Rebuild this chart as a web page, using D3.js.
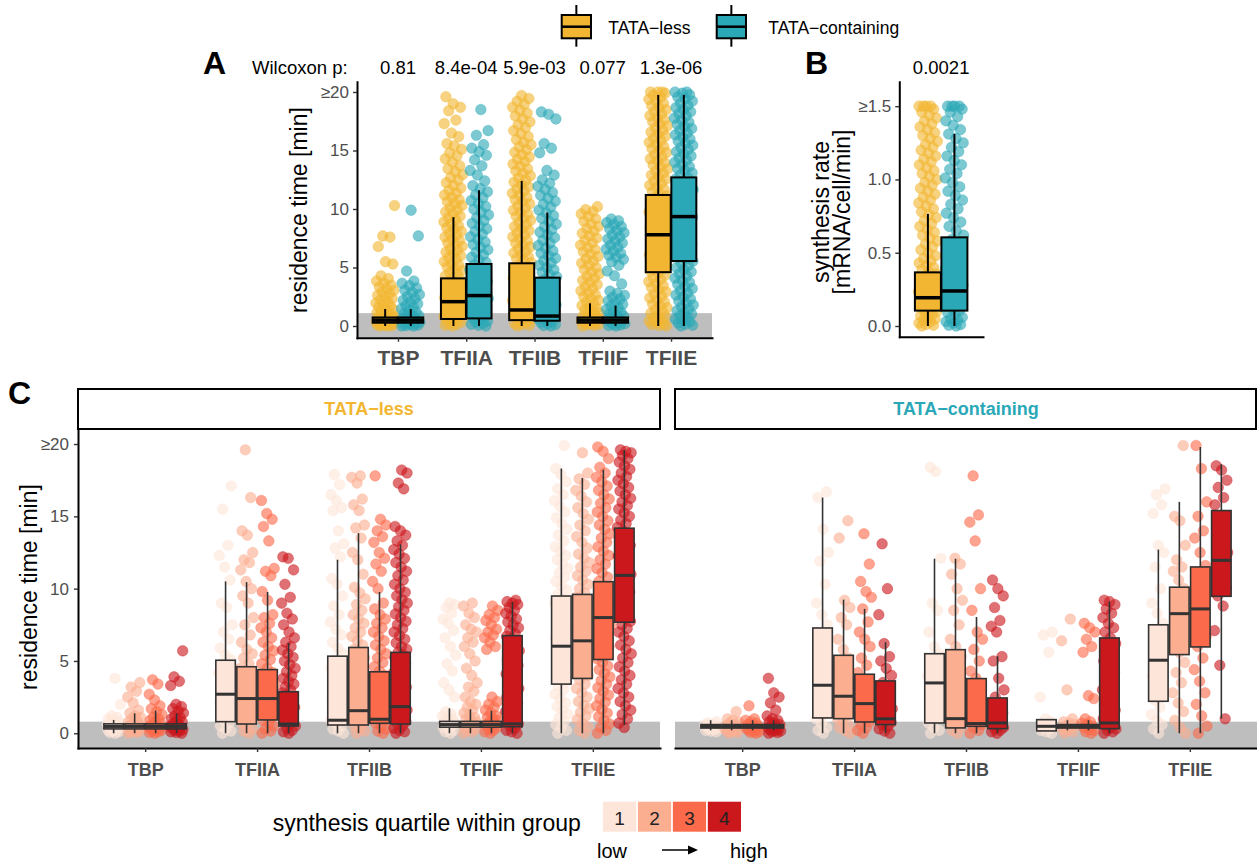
<!DOCTYPE html>
<html>
<head>
<meta charset="utf-8">
<script src="https://cdn.jsdelivr.net/npm/d3@7"></script>
<style>
  body { margin: 0; background: #fff; }
  svg { display: block; }
</style>
</head>
<body>
<svg id="fig" width="1257" height="862"></svg>
<script>
// Figure: TFII residence times (A), synthesis rates (B) and residence time
// split by synthesis quartile (C). Boxes are drawn over jittered points, in
// the ggplot style of the original.

const FONT = '"Liberation Sans", Arial, Helvetica, sans-serif';

const CATS = ['TBP', 'TFIIA', 'TFIIB', 'TFIIF', 'TFIIE'];
const GROUPS = ['TATA\u2212less', 'TATA\u2212containing'];
const QUARTILES = ['1', '2', '3', '4'];
const GROUP_COLORS = ['#f2b632', '#2ba8b7'];
const QUARTILE_COLORS = ['#fee5d9', '#fcae91', '#fb6a4a', '#cb181d'];

const RES_TICKS = [0, 5, 10, 15, 20];
const RES_LABELS = ['0', '5', '10', '15', '\u226520'];
const SYN_TICKS = [0, 0.5, 1, 1.5];
const SYN_LABELS = ['0.0', '0.5', '1.0', '\u22651.5'];

const A_PVALUES = ['0.81', '8.4e-04', '5.9e-03', '0.077', '1.3e-06'];
const B_PVALUE = '0.0021';

// box stats: [lower whisker, q1, median, q3, upper whisker]
const A_BOX_LESS = [[0, 0.28, 0.5, 0.73, 1.45], [0, 0.6, 2.08, 4.07, 9.3], [0, 0.5, 1.37, 5.36, 12.4], [0, 0.28, 0.5, 0.73, 1.94], [0, 4.6, 7.8, 11.2, 19.75]];
const A_BOX_TATA = [[0, 0.28, 0.5, 0.73, 1.45], [0, 0.65, 2.6, 5.3, 11.6], [0, 0.45, 0.85, 4.13, 9.7], [0, 0.28, 0.5, 0.73, 1.74], [0, 5.55, 9.35, 12.7, 19.75]];
const B_BOX = [[0, 0.105, 0.193, 0.366, 0.765], [0, 0.105, 0.239, 0.605, 1.31]];

// panel C, one row per factor, one entry per synthesis quartile
const C_BOX_LESS = [
  [[0, 0.3, 0.47, 0.65, 0.92], [0, 0.3, 0.47, 0.65, 1.38], [0, 0.3, 0.47, 0.65, 1.56], [0, 0.3, 0.47, 0.65, 1.38]],
  [[0, 0.8, 2.7, 5.05, 10.5], [0, 0.64, 2.4, 4.6, 10.45], [0, 0.92, 2.4, 4.4, 9.77], [0, 0.5, 0.64, 2.87, 6.25]],
  [[0, 0.57, 0.9, 5.33, 12.0], [0, 0.57, 1.56, 5.93, 13.84], [0, 0.69, 0.97, 4.25, 9.77], [0, 0.64, 1.84, 5.59, 13.06]],
  [[0, 0.42, 0.6, 0.82, 1.72], [0, 0.42, 0.6, 0.82, 1.66], [0, 0.42, 0.6, 0.82, 1.56], [0, 0.45, 0.65, 6.75, 9.08]],
  [[0, 3.4, 6.02, 9.49, 18.3], [0, 3.79, 6.39, 9.6, 17.66], [0, 5.1, 8.0, 10.48, 18.23], [0.57, 7.68, 10.92, 14.18, 19.59]],
];
const C_BOX_TATA = [
  [[0.2, 0.36, 0.47, 0.6, 0.9], [0.2, 0.36, 0.47, 0.6, 0.9], [0.2, 0.36, 0.47, 0.6, 0.9], [0.2, 0.36, 0.47, 0.6, 0.9]],
  [[0, 1.06, 3.32, 7.28, 16.3], [0, 1.01, 2.56, 5.39, 9.24], [0, 0.78, 2.05, 4.08, 8.6], [0, 0.6, 1.0, 3.62, 6.3]],
  [[0, 0.71, 3.48, 5.5, 12.07], [0, 0.37, 1.01, 5.78, 12.07], [0, 0.48, 0.67, 3.78, 8.04], [0, 0.32, 0.71, 2.44, 5.32]],
  [[0.16, 0.16, 0.48, 0.94, 0.94], [0.2, 0.36, 0.47, 0.6, 0.9], [0.2, 0.36, 0.47, 0.6, 0.9], [0, 0.32, 0.71, 6.59, 9.12]],
  [[0, 2.21, 5.05, 7.5, 12.7], [0, 5.44, 8.27, 10.1, 16.0], [0, 5.97, 8.6, 11.5, 19.8], [1.01, 9.47, 11.96, 15.4, 18.6]],
];

// jittered points (values capped at 20 / 1.5)
const A_PTS_LESS = [
  '0 0 0.03 0.08 0.1 0.14 0.18 0.2 0.24 0.28 0.3 0.35 0.38 0.42 0.46 0.5 0.55 0.6 0.64 0.7 0.76 0.83 0.9 0.97 1.05 1.13 1.22 1.3 1.4 1.5 1.62 1.74 1.85 1.97 2.1 2.22 2.36 2.5 2.63 2.78 2.92 3.05 3.2 3.35 3.5 3.68 3.85 4.05 4.3 5.3 5.5 6.8 7.6 7.7 10.3',
  '0 0.07 0.15 0.22 0.34 0.41 0.5 0.63 0.7 0.82 0.95 1.03 1.18 1.26 1.4 1.52 1.61 1.77 1.9 2.04 2.12 2.3 2.41 2.57 2.66 2.85 2.98 3.1 3.27 3.36 3.55 3.7 3.82 4.01 4.14 4.3 4.46 4.59 4.77 4.9 5.08 5.2 5.37 5.52 5.7 5.85 6 6.18 6.33 6.5 6.62 6.81 6.97 7.12 7.3 7.44 7.6 7.78 7.93 8.1 8.27 8.4 8.58 8.75 8.9 9.08 9.25 9.4 9.6 9.77 9.93 10.1 10.3 10.48 10.65 10.8 11 11.2 11.37 11.6 11.8 12 12.25 12.5 12.7 12.95 13.2 13.45 13.7 14 14.3 14.55 14.8 15.1 15.4 15.6 16.2 16.5 17.3 17.6 18.4 18.7 19 19.6',
  '0 0.06 0.13 0.2 0.31 0.4 0.52 0.61 0.74 0.85 0.96 1.1 1.22 1.35 1.47 1.6 1.75 1.88 2 2.16 2.3 2.45 2.6 2.74 2.9 3.05 3.2 3.36 3.5 3.66 3.82 3.97 4.12 4.3 4.45 4.6 4.77 4.93 5.1 5.26 5.42 5.6 5.75 5.92 6.08 6.25 6.42 6.6 6.76 6.93 7.1 7.28 7.45 7.62 7.8 7.97 8.15 8.33 8.5 8.68 8.85 9.03 9.2 9.38 9.55 9.73 9.9 10.1 10.28 10.45 10.63 10.8 11 11.18 11.35 11.55 11.72 11.9 12.1 12.3 12.48 12.66 12.85 13.05 13.25 13.45 13.65 13.85 14.05 14.25 14.45 14.65 14.85 15.05 15.3 15.5 15.7 15.95 16.2 16.45 16.7 16.95 17.2 17.45 17.7 17.95 18.2 18.45 18.7 18.95 19.2 19.45 19.7',
  '0 0.04 0.1 0.15 0.2 0.26 0.32 0.38 0.45 0.52 0.6 0.68 0.77 0.86 0.95 1.05 1.15 1.26 1.38 1.5 1.63 1.76 1.9 2.05 2.2 2.36 2.52 2.68 2.85 3.02 3.2 3.37 3.55 3.73 3.9 4.08 4.26 4.45 4.63 4.82 5 5.2 5.38 5.57 5.76 5.95 6.15 6.34 6.53 6.72 6.92 7.12 7.32 7.52 7.72 7.92 8.12 8.33 8.53 8.74 8.95 9.16 9.37 9.58 9.8 9.95 10.2',
  '0 0.05 0.12 0.2 0.3 0.42 0.55 0.68 0.8 0.95 1.1 1.25 1.4 1.56 1.72 1.88 2.05 2.22 2.4 2.57 2.75 2.92 3.1 3.28 3.46 3.63 3.8 3.98 4.15 4.33 4.5 4.68 4.85 5.03 5.2 5.38 5.55 5.73 5.9 6.08 6.25 6.43 6.6 6.78 6.95 7.13 7.3 7.48 7.65 7.83 8 8.18 8.35 8.53 8.7 8.88 9.05 9.23 9.4 9.58 9.75 9.93 10.1 10.28 10.45 10.63 10.8 10.98 11.15 11.33 11.5 11.68 11.85 12.03 12.2 12.38 12.55 12.73 12.9 13.08 13.25 13.43 13.6 13.78 13.95 14.13 14.3 14.48 14.65 14.83 15 15.18 15.35 15.53 15.7 15.88 16.05 16.23 16.4 16.58 16.75 16.93 17.1 17.28 17.45 17.63 17.8 17.98 18.15 18.33 18.5 18.68 18.85 19.03 19.2 19.38 19.55 19.73 19.9 20 20 20',
];
const A_PTS_TATA = [
  '0 0 0.04 0.08 0.12 0.17 0.22 0.27 0.32 0.38 0.44 0.5 0.57 0.64 0.72 0.8 0.9 1 1.1 1.22 1.35 1.48 1.62 1.76 1.9 2.05 2.2 2.36 2.52 2.7 2.88 3.05 3.25 3.45 3.65 3.85 4.7 7.7 9.9',
  '0 0.06 0.14 0.22 0.32 0.43 0.55 0.68 0.8 0.94 1.08 1.22 1.37 1.52 1.68 1.84 2 2.17 2.34 2.52 2.7 2.88 3.06 3.25 3.44 3.63 3.82 4.02 4.22 4.42 4.62 4.82 5.03 5.24 5.45 5.66 5.87 6.08 6.3 6.52 6.74 6.96 7.18 7.4 7.63 7.86 8.09 8.32 8.55 8.78 9.02 9.26 9.5 9.74 9.98 10.22 10.47 10.72 10.97 11.22 11.48 11.74 12 12.4 12.9 13.3 13.7 14.2 14.6 14.9 15.2 15.5 16.3 16.7 18.5',
  '0 0.05 0.12 0.2 0.3 0.4 0.52 0.65 0.78 0.92 1.06 1.2 1.35 1.5 1.66 1.82 1.98 2.15 2.32 2.5 2.68 2.86 3.04 3.23 3.42 3.61 3.8 4 4.2 4.4 4.6 4.8 5 5.2 5.4 5.6 5.8 6 6.22 6.44 6.66 6.88 7.1 7.33 7.56 7.79 8.02 8.25 8.48 8.72 8.96 9.2 9.44 9.68 9.92 10.17 10.42 10.67 10.92 11.17 11.42 11.68 11.94 12.2 12.5 12.9 13.3 14.8 15.2 15.6 17.7 18.1 18.3',
  '0 0.04 0.09 0.14 0.2 0.26 0.33 0.4 0.48 0.56 0.65 0.74 0.84 0.95 1.06 1.18 1.3 1.43 1.56 1.7 1.85 2 2.15 2.3 2.46 2.62 2.8 2.98 3.6 4.3 4.7 5.2 5.5 5.7 5.88 6.05 6.22 6.4 6.57 6.74 6.92 7.1 7.27 7.44 7.62 7.8 7.97 8.14 8.32 8.5 8.67 8.84 9 9.15',
  '0 0.07 0.15 0.25 0.36 0.48 0.6 0.74 0.88 1.02 1.17 1.32 1.48 1.64 1.8 1.97 2.14 2.31 2.49 2.66 2.84 3.02 3.2 3.38 3.56 3.74 3.92 4.1 4.28 4.46 4.64 4.82 5 5.18 5.36 5.54 5.72 5.9 6.08 6.26 6.44 6.62 6.8 6.98 7.16 7.34 7.52 7.7 7.88 8.06 8.24 8.42 8.6 8.78 8.96 9.14 9.32 9.5 9.68 9.86 10.04 10.22 10.4 10.58 10.76 10.94 11.12 11.3 11.48 11.66 11.84 12.02 12.2 12.38 12.56 12.74 12.92 13.1 13.28 13.46 13.64 13.82 14 14.18 14.36 14.54 14.72 14.9 15.08 15.26 15.44 15.62 15.8 15.98 16.16 16.34 16.52 16.7 16.88 17.06 17.24 17.42 17.6 17.78 17.96 18.14 18.32 18.5 18.68 18.86 19.04 19.22 19.4 19.58 19.76 19.9 20 20',
];
const B_PTS = [
  '0 0.005 0.01 0.02 0.03 0.04 0.05 0.06 0.07 0.08 0.09 0.1 0.11 0.12 0.13 0.14 0.15 0.16 0.17 0.18 0.19 0.2 0.21 0.22 0.235 0.25 0.265 0.28 0.295 0.31 0.325 0.34 0.355 0.37 0.385 0.4 0.415 0.43 0.445 0.46 0.48 0.5 0.52 0.54 0.56 0.58 0.6 0.62 0.64 0.66 0.68 0.7 0.72 0.74 0.76 0.78 0.8 0.82 0.84 0.86 0.88 0.9 0.92 0.94 0.96 0.98 1 1.02 1.04 1.06 1.08 1.1 1.12 1.14 1.16 1.18 1.2 1.22 1.24 1.26 1.28 1.3 1.32 1.34 1.36 1.38 1.4 1.42 1.44 1.46 1.48 1.5 1.5 1.5 1.5',
  '0 0.005 0.01 0.02 0.03 0.04 0.05 0.06 0.075 0.09 0.105 0.12 0.135 0.15 0.165 0.18 0.2 0.22 0.24 0.26 0.28 0.3 0.32 0.345 0.37 0.395 0.42 0.445 0.47 0.5 0.53 0.56 0.59 0.62 0.65 0.68 0.71 0.74 0.77 0.8 0.83 0.86 0.89 0.92 0.95 0.98 1.01 1.04 1.07 1.1 1.13 1.16 1.19 1.22 1.25 1.28 1.31 1.34 1.37 1.4 1.43 1.46 1.48 1.5 1.5 1.5 1.5',
];

const C_PTS_LESS = [
  ['0 0.05 0.1 0.15 0.2 0.25 0.3 0.35 0.4 0.45 0.5 0.55 0.6 0.65 0.7 0.8 0.9 1 1.1 1.2 2 3.8',
   '0 0.05 0.1 0.15 0.2 0.25 0.3 0.35 0.4 0.45 0.5 0.6 0.7 0.8 0.9 1 1.1 1.2 1.4 1.6 2.1 2.5 2.9 3.2 3.5',
   '0 0.05 0.1 0.15 0.2 0.25 0.3 0.35 0.4 0.45 0.5 0.6 0.7 0.8 0.9 1 1.1 1.3 1.5 1.7 1.9 2.3 2.7 3.4 3.7',
   '0 0.05 0.1 0.15 0.2 0.25 0.3 0.35 0.4 0.45 0.5 0.6 0.7 0.8 0.9 1 1.1 1.2 1.4 1.55 1.7 1.85 2 3.3 3.6 3.9 5.7'],
  ['0 0.15 0.3 0.5 0.7 0.9 1.1 1.3 1.5 1.7 1.9 2.1 2.35 2.6 2.85 3.1 3.35 3.6 3.9 4.2 4.5 4.8 5.1 5.4 5.9 6.5 7 7.5 8.7 9 10.6 11.5 12.3 13 15.5 17.1',
   '0 0.15 0.3 0.5 0.7 0.9 1.1 1.3 1.5 1.7 1.9 2.1 2.35 2.6 2.85 3.1 3.35 3.6 3.9 4.2 4.5 4.8 5.2 5.5 5.8 6.3 6.8 7.5 8 9 9.5 10 10.5 11.3 11.8 12 12.5 13.7 14 16.3 19.6',
   '0 0.15 0.3 0.5 0.7 0.9 1.1 1.3 1.5 1.7 1.9 2.1 2.35 2.6 2.85 3.1 3.35 3.6 3.9 4.2 4.5 4.8 5.1 5.4 5.7 6 6.3 6.6 7 7.3 7.6 8 8.2 9.2 9.8 10.9 11.2 11.4 13.3 14.3 14.8 15.2 16.1',
   '0 0.1 0.2 0.35 0.5 0.65 0.8 0.95 1.1 1.25 1.4 1.6 1.8 2 2.2 2.4 2.6 2.8 3 3.2 3.4 3.6 3.8 4 4.25 4.5 4.75 5 5.25 5.5 5.75 6 6.3 6.6 7 7.5 7.9 8.3 9 9.4 10.3 11.3 12.1 12.2'],
  ['0 0.15 0.3 0.5 0.7 0.9 1.1 1.35 1.6 1.85 2.1 2.4 2.7 3 3.3 3.6 3.9 4.2 4.5 4.8 5.1 5.5 5.9 6.3 6.8 7.2 7.7 8.2 8.8 9.5 10.3 10.7 12.2 12.8 13.1 14 15.4 15.6 16.1 16.5 17.2 17.9',
   '0 0.15 0.3 0.5 0.7 0.9 1.1 1.3 1.5 1.75 2 2.25 2.5 2.75 3 3.25 3.5 3.75 4 4.3 4.6 4.9 5.2 5.5 5.8 6.1 6.4 6.7 7 7.3 7.6 7.9 8.2 8.5 8.9 9.3 9.7 10.1 11 12 12.5 13.5 14.2 14.4 15.4 15.8 16.2 17.3 17.7 17.8',
   '0 0.15 0.3 0.5 0.7 0.9 1.1 1.3 1.5 1.75 2 2.25 2.5 2.75 3 3.25 3.5 3.75 4 4.3 4.6 4.9 5.2 5.5 5.8 6.1 6.4 6.7 7 7.3 7.6 7.9 8.2 8.6 9 10 10.5 11.2 11.7 12.1 12.5 13.2 13.6 14 14.4 14.8 17.8',
   '0 0.1 0.2 0.35 0.5 0.65 0.8 0.95 1.1 1.25 1.4 1.6 1.8 2 2.2 2.4 2.6 2.8 3 3.2 3.4 3.6 3.8 4 4.2 4.4 4.6 4.8 5 5.2 5.4 5.6 5.8 6 6.25 6.5 6.75 7 7.25 7.5 7.75 8 8.25 8.5 8.75 9 9.25 9.5 9.75 10 10.3 10.6 10.9 11.2 11.5 11.8 12.1 12.4 12.7 13 13.3 13.7 14 14.3 16.9 17.3 18 18.2'],
  ['0 0.1 0.2 0.3 0.4 0.5 0.6 0.7 0.8 0.9 1 1.1 1.2 1.35 1.5 2.5 3 3.5 4.3 4.8 5.4 6 6.6 7.1 7.6 7.9 8.3 8.7 8.9 9',
   '0 0.1 0.2 0.3 0.4 0.5 0.6 0.7 0.8 0.9 1 1.1 1.2 1.4 1.6 1.8 2 2.2 2.5 2.9 3.2 3.5 4 4.5 5 5.5 6 6.3 6.6 7 7.2 7.5 8 8.3 8.8 9',
   '0 0.1 0.2 0.3 0.4 0.5 0.6 0.7 0.8 0.9 1 1.1 1.2 1.4 1.6 1.8 2 2.2 2.5 5.8 6 6.3 6.6 6.8 7 7.2 7.5 7.8 8 8.2 8.5 8.8',
   '0 0.1 0.2 0.35 0.5 0.65 0.8 0.95 1.1 1.3 1.5 1.7 1.9 2.1 2.3 2.5 2.7 2.9 3.1 3.3 3.5 3.7 3.9 4.1 4.3 4.5 4.7 4.9 5.1 5.3 5.5 5.7 5.9 6.1 6.3 6.5 6.7 6.9 7.1 7.3 7.5 7.7 7.9 8.1 8.3 8.5 8.7 8.9 9 9.1 9.2'],
  ['0 0.2 0.4 0.6 0.85 1.1 1.35 1.6 1.85 2.1 2.4 2.7 3 3.3 3.6 3.9 4.2 4.5 4.8 5.1 5.4 5.7 6 6.3 6.6 6.9 7.2 7.5 7.8 8.1 8.4 8.7 9 9.3 9.6 9.9 10.2 10.5 10.8 11.1 11.4 11.7 12 12.3 12.6 12.9 13.3 13.7 14.1 14.5 14.9 15.3 15.7 16.1 16.5 16.9 17.4 17.9 18.3 19.9',
   '0 0.2 0.45 0.7 0.95 1.2 1.45 1.7 1.95 2.2 2.5 2.8 3.1 3.4 3.7 4 4.3 4.6 4.9 5.2 5.5 5.8 6.1 6.4 6.7 7 7.3 7.6 7.9 8.2 8.5 8.8 9.1 9.4 9.7 10 10.3 10.6 10.9 11.2 11.5 11.8 12.1 12.4 12.8 13.2 13.6 14 14.4 14.8 15.2 15.6 16 16.4 16.8 17.2 17.6 18 19.4',
   '0 0.2 0.4 0.65 0.9 1.15 1.4 1.65 1.9 2.15 2.4 2.65 2.9 3.15 3.4 3.65 3.9 4.15 4.4 4.65 4.9 5.15 5.4 5.7 6 6.3 6.6 6.9 7.2 7.5 7.8 8.1 8.4 8.7 9 9.3 9.6 9.9 10.2 10.5 10.8 11.1 11.4 11.7 12 12.3 12.6 12.9 13.2 13.5 13.8 14.1 14.4 14.7 15 15.3 15.6 15.9 16.2 16.5 16.8 17.1 17.4 17.7 18 18.4 19 19.5 19.8',
   '0.4 0.7 1 1.3 1.6 1.9 2.2 2.5 2.8 3.1 3.4 3.7 4 4.3 4.6 4.9 5.2 5.5 5.8 6.1 6.4 6.7 7 7.25 7.5 7.75 8 8.25 8.5 8.75 9 9.25 9.5 9.75 10 10.25 10.5 10.75 11 11.25 11.5 11.75 12 12.25 12.5 12.75 13 13.25 13.5 13.75 14 14.25 14.5 14.75 15 15.25 15.5 15.75 16 16.25 16.5 16.75 17 17.25 17.5 17.75 18 18.25 18.5 18.75 19 19.2 19.4 19.5 19.6'],
];
const C_PTS_TATA = [
  ['0.1 0.15 0.2 0.25 0.3 0.35 0.4 0.45 0.5 0.55 0.6 0.65 0.7 0.8',
   '0 0.05 0.1 0.15 0.2 0.25 0.3 0.35 0.4 0.45 0.5 0.55 0.6 0.7 0.8 0.9 1 1.5',
   '0 0.05 0.1 0.15 0.2 0.25 0.3 0.35 0.4 0.45 0.5 0.55 0.6 0.7 0.8 0.9 1 1.9',
   '0 0.05 0.1 0.15 0.2 0.25 0.3 0.35 0.4 0.45 0.5 0.6 0.7 0.8 0.9 1 1.2 1.6 2.1 2.5 2.8 3.8'],
  ['0 0.2 0.4 0.7 1 1.3 1.6 2 2.4 2.8 3.2 3.6 4 5 6.6 7.5 8.2 9 10.3 11.9 12.5 14.1 16.3 16.7',
   '0 0.2 0.4 0.6 0.8 1 1.3 1.6 1.9 2.2 2.5 2.8 3.2 3.7 4.2 4.7 5.2 5.8 6.5 7.5 8 8.7 9.2 13.5 14.7',
   '0 0.2 0.4 0.6 0.8 1 1.3 1.6 1.9 2.2 2.5 2.8 3.2 3.7 4.2 4.7 5.2 6 6.5 7 7.7 8.6 9.4 9.8 10.5 11.7 13.8',
   '0 0.15 0.3 0.45 0.6 0.75 0.9 1.1 1.3 1.5 1.7 1.9 2.1 2.3 2.5 2.7 3 3.5 4 4.5 5 5.3 6.2 8.2 10 13.1'],
  ['0 0.2 0.4 0.7 1 1.3 1.6 2 2.5 3 3.5 4 4.5 5 5.5 6 7 8.5 9 12.1 18.1 18.4',
   '0 0.2 0.4 0.6 0.8 1 1.3 1.6 1.9 2.3 2.8 3.3 3.8 4.3 4.8 5.3 6 6.5 7.5 8.5 9.2 10 11 11.7 12.1',
   '0 0.2 0.4 0.6 0.8 1 1.3 1.6 1.9 2.3 2.8 3.3 3.8 4.3 5 5.8 6.5 7 8.5 10 13.3 14.6 15.1 17.8',
   '0 0.1 0.2 0.3 0.4 0.5 0.6 0.7 0.8 0.9 1 1.2 1.4 1.6 1.8 2 2.5 3 3.8 5 5.3 7 7.4 7.8 8.7 9.5 10 10.6'],
  ['0 0.1 0.2 0.3 0.4 0.5 0.6 0.7 0.8 1 2.5 5.6 6.8 7',
   '0 0.1 0.2 0.3 0.4 0.5 0.6 0.7 0.8 1 3 6.4 7.9',
   '0 0.1 0.2 0.3 0.4 0.5 0.6 0.7 0.8 1 2.4 2.6 5.6 6 6.5 7 7.3 7.6',
   '0 0.1 0.2 0.3 0.4 0.55 0.7 0.85 1 1.2 1.4 1.6 1.8 2 2.3 2.6 3 3.4 3.8 4.2 4.6 5 5.4 5.8 6.2 6.6 7 7.3 7.6 8 8.3 8.6 8.9 9.1 9.2'],
  ['0 0.3 0.6 0.9 1.3 1.8 2.3 2.8 3.4 4 4.6 5.2 5.8 6.4 7 7.6 8.3 9 10 11.5 12.5 13 15.2 15.8 16.5 16.9',
   '0 0.4 0.9 1.5 2.1 2.8 3.5 4.2 4.9 5.6 6.3 7 7.6 8.2 8.8 9.4 10 10.6 11.2 11.5 12 13 14.7 15 19.9',
   '0 0.5 1.2 2 2.8 3.6 4.4 5.2 6 6.7 7.4 8 8.6 9.2 9.8 10.4 11 11.6 12.5 13.5 14 15 16 18.3 19.9',
   '1 4.7 7.1 8.8 9.5 10 10.5 11 11.5 12 12.5 13 13.5 14.5 15 15.8 16.3 17 17.5 18.2 18.5'],
];

const parse = (s) => s.trim().split(/\s+/).map(Number);
const jit = (i, k) => (((i + 1) * 0.6180339887 + k * 0.4142) % 1) - 0.5;

const svg = d3.select('#fig').attr('font-family', FONT);

function drawPoints(g, cx, vals, y, color, half, k) {
  g.append('g').selectAll('circle').data(vals).join('circle')
    .attr('cx', (d, i) => cx + jit(i, k) * 2 * half)
    .attr('cy', (d) => y(d))
    .attr('r', 5.3)
    .attr('fill', color)
    .attr('fill-opacity', 0.62)
    .attr('stroke', color)
    .attr('stroke-opacity', 0.35)
    .attr('stroke-width', 1);
}

function drawBox(g, cx, w, s, y, fill, stroke, lw, mlw) {
  const [lo, q1, med, q3, hi] = s;
  const b = g.append('g');
  b.append('line').attr('x1', cx).attr('x2', cx).attr('y1', y(lo)).attr('y2', y(hi))
    .attr('stroke', stroke).attr('stroke-width', lw);
  b.append('rect').attr('x', cx - w / 2).attr('y', y(q3)).attr('width', w).attr('height', y(q1) - y(q3))
    .attr('fill', fill).attr('stroke', stroke).attr('stroke-width', lw);
  b.append('line').attr('x1', cx - w / 2).attr('x2', cx + w / 2).attr('y1', y(med)).attr('y2', y(med))
    .attr('stroke', stroke).attr('stroke-width', mlw);
}

function styleAxis(sel, fs, bold) {
  sel.attr('font-family', FONT).attr('font-size', fs);
  sel.select('.domain').attr('stroke', '#000').attr('stroke-width', 2).attr('stroke-linecap', 'square');
  sel.selectAll('.tick line').attr('stroke', '#333').attr('stroke-width', 1.4);
  sel.selectAll('.tick text').attr('fill', '#4d4d4d').attr('font-weight', bold ? 'bold' : null);
}

function vTitle(x, y, lines, size) {
  const t = svg.append('text').attr('transform', `translate(${x},${y}) rotate(-90)`)
    .attr('text-anchor', 'middle').attr('font-size', size).attr('fill', '#000');
  lines.forEach((l, i) => t.append('tspan').attr('x', 0).attr('dy', i ? size * 0.93 : 0).text(l));
}

// ---- panel A ----
const xA = d3.scalePoint().domain(CATS).range([357, 712]).padding(0.6);
const yA = d3.scaleLinear().domain([-1, 20.88]).range([337.7, 81.7]);
const gA = svg.append('g');
gA.append('rect').attr('x', 357).attr('y', yA(1.1)).attr('width', 712 - 357)
  .attr('height', yA(-1) - yA(1.1)).attr('fill', '#bebebe');
[A_PTS_LESS, A_PTS_TATA].forEach((pts, gi) => CATS.forEach((c, ci) =>
  drawPoints(gA, xA(c) + (gi - 0.5) * 25.6, parse(pts[ci]), yA, GROUP_COLORS[gi], 9.5, ci * 2 + gi)));
[A_BOX_LESS, A_BOX_TATA].forEach((bx, gi) => CATS.forEach((c, ci) =>
  drawBox(gA, xA(c) + (gi - 0.5) * 25.6, 25, bx[ci], yA, GROUP_COLORS[gi], '#000', 2, 3.5)));
gA.append('g').attr('transform', 'translate(357,0)')
  .call(d3.axisLeft(yA).tickValues(RES_TICKS).tickFormat((d, i) => RES_LABELS[i]).tickSize(4).tickSizeOuter(0).tickPadding(4))
  .call(styleAxis, 17, false);
gA.append('g').attr('transform', 'translate(0,337.7)')
  .call(d3.axisBottom(xA).tickSize(4).tickSizeOuter(0).tickPadding(8))
  .call(styleAxis, 21, true);
vTitle(307, 210, ['residence time [min]'], 23);

svg.append('text').attr('x', 203).attr('y', 74).attr('font-size', 32).attr('font-weight', 'bold').text('A');
svg.append('text').attr('x', 252).attr('y', 74).attr('font-size', 18.5).text('Wilcoxon p:');
svg.append('g').selectAll('text').data(A_PVALUES).join('text')
  .attr('x', (d, i) => xA(CATS[i])).attr('y', 74).attr('text-anchor', 'middle').attr('font-size', 18.5)
  .text((d) => d);

// ---- panel B ----
const xB = d3.scalePoint().domain(['all']).range([899.3, 983]).padding(0.6);
const yB = d3.scaleLinear().domain([-0.073, 1.667]).range([336.7, 81.7]);
const gB = svg.append('g');
B_PTS.forEach((pts, gi) => drawPoints(gB, xB('all') + (gi - 0.5) * 26.5, parse(pts), yB, GROUP_COLORS[gi], 9.5, 11 + gi));
B_BOX.forEach((s, gi) => drawBox(gB, xB('all') + (gi - 0.5) * 26.5, 26, s, yB, GROUP_COLORS[gi], '#000', 2, 3.5));
gB.append('g').attr('transform', 'translate(899.3,0)')
  .call(d3.axisLeft(yB).tickValues(SYN_TICKS).tickFormat((d, i) => SYN_LABELS[i]).tickSize(4).tickSizeOuter(0).tickPadding(4))
  .call(styleAxis, 17, false);
gB.append('g').attr('transform', 'translate(0,336.7)')
  .call(d3.axisBottom(xB).tickValues([]).tickSizeOuter(0))
  .call(styleAxis, 17, false);
vTitle(829, 212, ['synthesis rate', '[mRNA/cell/min]'], 23);
svg.append('text').attr('x', 805).attr('y', 74).attr('font-size', 32).attr('font-weight', 'bold').text('B');
svg.append('text').attr('x', xB('all')).attr('y', 74).attr('text-anchor', 'middle').attr('font-size', 18.5).text(B_PVALUE);

// ---- top legend ----
const legTop = svg.append('g');
[[561.7, 608.3], [716.7, 768.3]].forEach(([bx, tx], gi) => {
  const cx = bx + 14.65;
  legTop.append('line').attr('x1', cx).attr('x2', cx).attr('y1', 5).attr('y2', 46.7).attr('stroke', '#000').attr('stroke-width', 2);
  legTop.append('rect').attr('x', bx).attr('y', 15).attr('width', 29.3).attr('height', 23.3)
    .attr('fill', GROUP_COLORS[gi]).attr('stroke', '#000').attr('stroke-width', 2);
  legTop.append('line').attr('x1', bx).attr('x2', bx + 29.3).attr('y1', 26.7).attr('y2', 26.7).attr('stroke', '#000').attr('stroke-width', 2.5);
  legTop.append('text').attr('x', tx).attr('y', 34.3).attr('font-size', 17.5).text(GROUPS[gi]);
});

// ---- panel C ----
const yC = d3.scaleLinear().domain([-1.02, 21.04]).range([748, 429]);
const panelsC = [
  { x0: 78, x1: 660, box: C_BOX_LESS, pts: C_PTS_LESS },
  { x0: 675, x1: 1257, box: C_BOX_TATA, pts: C_PTS_TATA },
];
panelsC.forEach((p, pi) => {
  const g = svg.append('g');
  const x = d3.scalePoint().domain(CATS).range([p.x0, p.x1]).padding(0.6);
  g.append('rect').attr('x', p.x0).attr('y', yC(0.8)).attr('width', p.x1 - p.x0)
    .attr('height', yC(-1.02) - yC(0.8)).attr('fill', '#bebebe');
  CATS.forEach((c, ci) => QUARTILES.forEach((q, qi) =>
    drawPoints(g, x(c) + (qi - 1.5) * 21, parse(p.pts[ci][qi]), yC, QUARTILE_COLORS[qi], 7, pi * 20 + ci * 4 + qi)));
  CATS.forEach((c, ci) => QUARTILES.forEach((q, qi) =>
    drawBox(g, x(c) + (qi - 1.5) * 21, 19.5, p.box[ci][qi], yC, QUARTILE_COLORS[qi], '#333', 1.6, 3)));
  g.append('g').attr('transform', 'translate(0,748)')
    .call(d3.axisBottom(x).tickSize(4).tickSizeOuter(0).tickPadding(11))
    .call(styleAxis, 18, true);
  // facet strip
  g.append('rect').attr('x', p.x0).attr('y', 389).attr('width', p.x1 - p.x0 - (pi ? 1 : 0)).attr('height', 40)
    .attr('fill', '#fff').attr('stroke', '#000').attr('stroke-width', 2);
  g.append('text').attr('x', (p.x0 + p.x1) / 2).attr('y', 415).attr('text-anchor', 'middle')
    .attr('font-size', 18).attr('font-weight', 'bold').attr('fill', GROUP_COLORS[pi]).text(GROUPS[pi]);
});
svg.append('g').attr('transform', 'translate(78,0)')
  .call(d3.axisLeft(yC).tickValues(RES_TICKS).tickFormat((d, i) => RES_LABELS[i]).tickSize(4).tickSizeOuter(0).tickPadding(5))
  .call(styleAxis, 17, false);
vTitle(37, 587, ['residence time [min]'], 23);
svg.append('text').attr('x', 8).attr('y', 404).attr('font-size', 32).attr('font-weight', 'bold').text('C');

// ---- bottom legend ----
const legBot = svg.append('g');
legBot.append('text').attr('x', 272.7).attr('y', 831).attr('font-size', 23).text('synthesis quartile within group');
const keyX = d3.scaleBand().domain(QUARTILES).range([603, 741]).paddingInner(0.05);
legBot.selectAll('rect').data(QUARTILES).join('rect')
  .attr('x', (d) => keyX(d)).attr('y', 801.7).attr('width', keyX.bandwidth()).attr('height', 30)
  .attr('fill', (d, i) => QUARTILE_COLORS[i]);
legBot.selectAll('text.k').data(QUARTILES).join('text').attr('class', 'k')
  .attr('x', (d) => keyX(d) + keyX.bandwidth() / 2).attr('y', 825).attr('text-anchor', 'middle')
  .attr('font-size', 19).attr('fill', '#222').text((d) => d);
legBot.append('text').attr('x', 597).attr('y', 858).attr('font-size', 20).text('low');
legBot.append('text').attr('x', 730).attr('y', 858).attr('font-size', 20).text('high');
legBot.append('line').attr('x1', 662).attr('x2', 690).attr('y1', 850).attr('y2', 850).attr('stroke', '#000').attr('stroke-width', 1.5);
legBot.append('path').attr('d', 'M688,845.5L698,850L688,854.5Z').attr('fill', '#000');
</script>
</body>
</html>
